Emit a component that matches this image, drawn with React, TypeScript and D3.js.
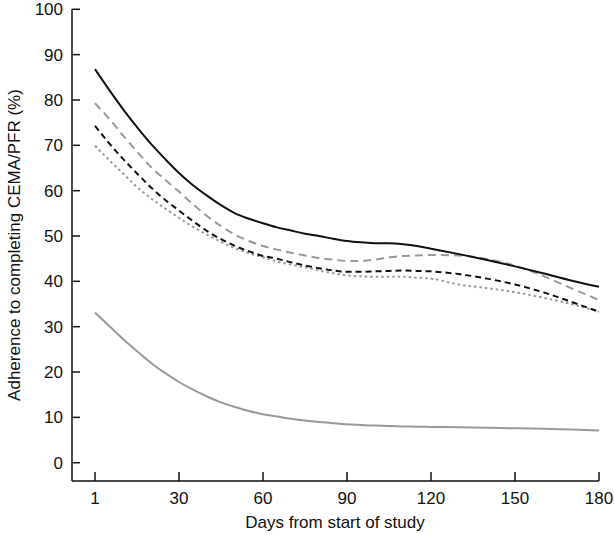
import React from "react";
import * as d3 from "d3";

const days = [0, 5, 10, 15, 20, 25, 30, 35, 40, 45, 50, 55, 60, 65, 70, 75, 80, 85, 90, 95, 100, 105, 110, 115, 120, 130, 140, 150, 160, 170, 180];

const solidBlack = [86.8, 82.3, 78.0, 74.0, 70.3, 67.0, 63.9, 61.2, 58.9, 56.8, 55.0, 53.8, 52.8, 51.9, 51.2, 50.5, 50.0, 49.4, 48.9, 48.6, 48.4, 48.4, 48.2, 47.8, 47.2, 46.0, 44.7, 43.3, 41.8, 40.2, 38.8];
const greyDashed = [79.3, 75.9, 72.2, 68.6, 65.2, 62.4, 59.8, 57.0, 54.4, 52.2, 50.3, 48.9, 47.8, 47.0, 46.3, 45.7, 45.1, 44.8, 44.5, 44.5, 44.8, 45.3, 45.6, 45.7, 45.8, 45.7, 44.9, 43.5, 41.2, 38.5, 35.9];
const blackDashed = [74.3, 70.5, 67.0, 63.8, 60.7, 58.0, 55.6, 53.3, 51.1, 49.3, 47.8, 46.6, 45.6, 45.0, 44.2, 43.5, 42.9, 42.4, 42.1, 42.1, 42.2, 42.3, 42.4, 42.3, 42.2, 41.6, 40.6, 39.3, 37.6, 35.5, 33.3];
const greyDotted = [69.9, 66.8, 63.8, 60.8, 58.3, 56.1, 54.0, 52.0, 50.3, 48.7, 47.3, 46.2, 45.3, 44.4, 43.7, 43.1, 42.4, 41.8, 41.3, 41.1, 41.0, 41.0, 41.0, 40.8, 40.6, 39.3, 38.5, 37.6, 36.4, 35.0, 33.3];
const greySolid = [33.1, 30.2, 27.3, 24.6, 22.0, 19.8, 17.8, 16.1, 14.6, 13.3, 12.3, 11.4, 10.7, 10.2, 9.7, 9.3, 9.0, 8.7, 8.5, 8.3, 8.2, 8.1, 8.0, 7.95, 7.9, 7.8, 7.7, 7.6, 7.5, 7.3, 7.1];

const xTicks = [0, 30, 60, 90, 120, 150, 180];
const xTickLabels = ["1", "30", "60", "90", "120", "150", "180"];
const yTicks = [0, 10, 20, 30, 40, 50, 60, 70, 80, 90, 100];

const series = [
  { name: "greySolid", values: greySolid, color: "#9a9a9a", dash: "none" },
  { name: "greyDotted", values: greyDotted, color: "#9a9a9a", dash: "2.5,3" },
  { name: "blackDashed", values: blackDashed, color: "#111111", dash: "6,4" },
  { name: "greyDashed", values: greyDashed, color: "#9a9a9a", dash: "8,5" },
  { name: "solidBlack", values: solidBlack, color: "#111111", dash: "none" },
];

export default function App() {
  const W = 614, H = 535;
  const axisX = 72, axisY = 481;
  const x = d3.scaleLinear().domain([0, 180]).range([95, 599]);
  const y = d3.scaleLinear().domain([0, 100]).range([462.7, 9.3]);
  const line = d3
    .line<number>()
    .x((_, i) => x(days[i]))
    .y((v) => y(v))
    .curve(d3.curveMonotoneX);
  const font = "'Liberation Sans', Arial, Helvetica, sans-serif";
  return (
    <svg width={W} height={H} style={{ position: "absolute", left: 0, top: 0, background: "#fff" }} fontFamily={font}>
      <line x1={axisX} x2={axisX} y1={y(100)} y2={axisY} stroke="#111" strokeWidth={1.5} />
      <line x1={axisX} x2={x(180)} y1={axisY} y2={axisY} stroke="#111" strokeWidth={1.5} />
      {yTicks.map((t) => (
        <g key={"y" + t}>
          <line x1={axisX} x2={axisX + 8} y1={y(t)} y2={y(t)} stroke="#111" strokeWidth={1.5} />
          <text x={63} y={y(t)} dy="0.36em" textAnchor="end" fontSize={17} fill="#111">
            {t}
          </text>
        </g>
      ))}
      {xTicks.map((t, i) => (
        <g key={"x" + t}>
          <line x1={x(t)} x2={x(t)} y1={axisY} y2={axisY - 9} stroke="#111" strokeWidth={1.5} />
          <text x={x(t)} y={504} textAnchor="middle" fontSize={17} fill="#111">
            {xTickLabels[i]}
          </text>
        </g>
      ))}
      <text x={335} y={528} textAnchor="middle" fontSize={17} fill="#111">
        Days from start of study
      </text>
      <text transform={`translate(19.5,245) rotate(-90)`} textAnchor="middle" fontSize={17} fill="#111">
        Adherence to completing CEMA/PFR (%)
      </text>
      {series.map((s) => (
        <path
          key={s.name}
          d={line(s.values) || ""}
          fill="none"
          stroke={s.color}
          strokeWidth={2}
          strokeDasharray={s.dash}
        />
      ))}
    </svg>
  );
}
